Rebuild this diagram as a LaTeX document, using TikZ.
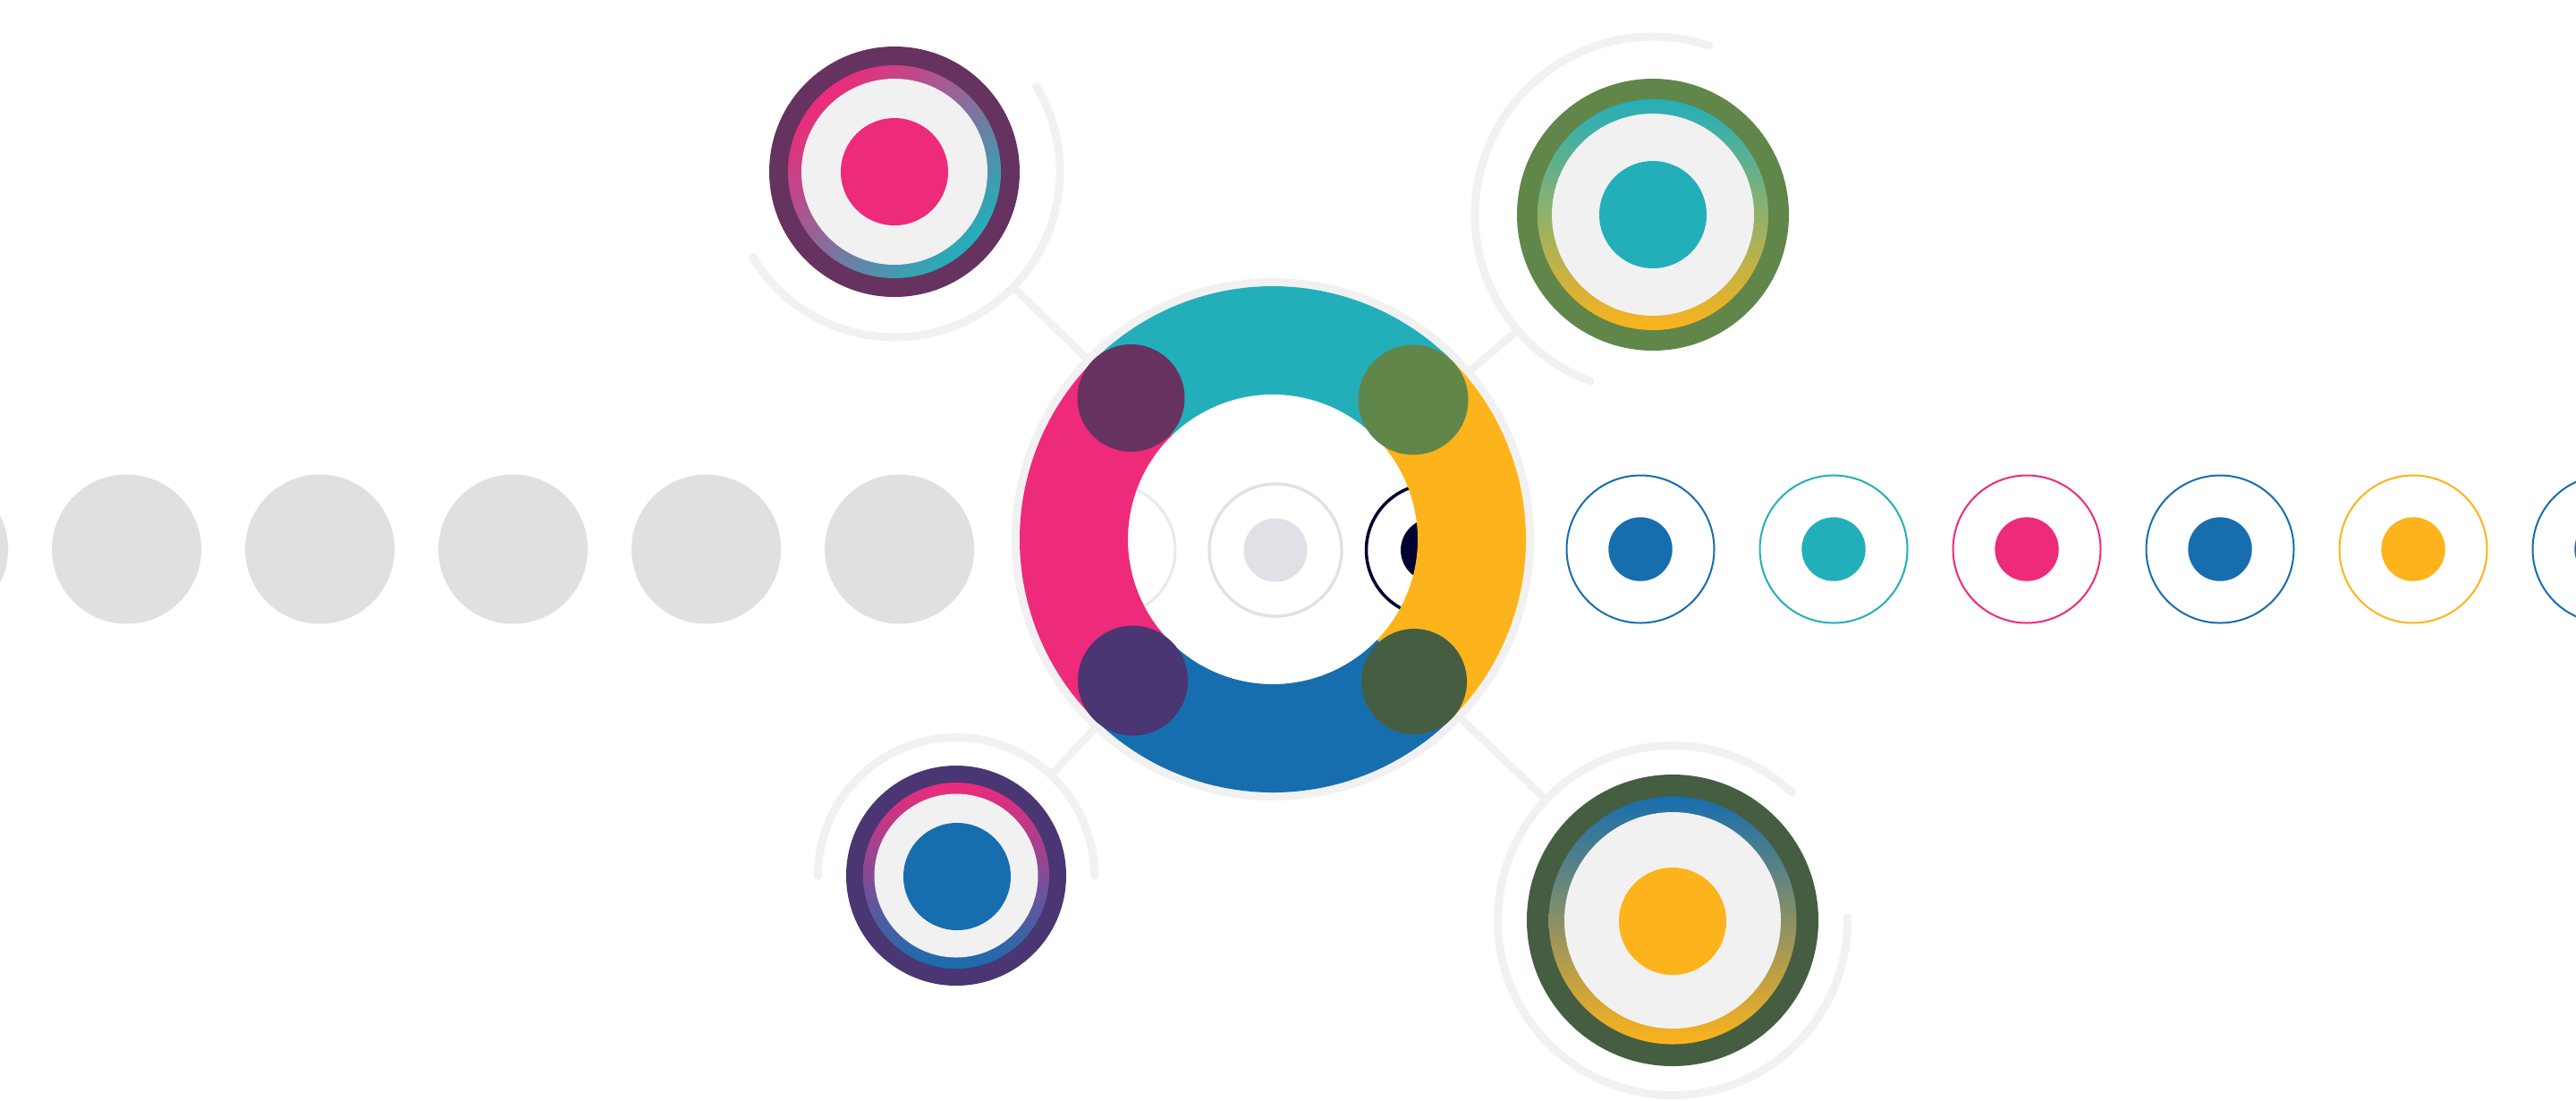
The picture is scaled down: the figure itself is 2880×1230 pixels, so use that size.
\documentclass[tikz,border=0pt]{standalone}
\usetikzlibrary{calc}
\definecolor{pinkC}{HTML}{EE2A7B}
\definecolor{tealC}{HTML}{23AFBA}
\definecolor{yellowC}{HTML}{FDB31B}
\definecolor{blueC}{HTML}{176EAF}
\definecolor{plumC}{HTML}{663361}
\definecolor{oliveC}{HTML}{61864A}
\definecolor{indigoC}{HTML}{4A3672}
\definecolor{forestC}{HTML}{455E42}
\definecolor{lightC}{HTML}{F1F1F1}
\definecolor{arcC}{HTML}{F1F1F1}
\definecolor{rowC}{HTML}{E0E0E0}
\definecolor{hubgreyC}{HTML}{E0E0E6}
\definecolor{hubgreyD}{HTML}{E9E9ED}
\definecolor{navyC}{HTML}{000033}
\tikzset{
  disc/.style 2 args={circle,inner sep=0pt,outer sep=0pt,draw=none,fill=#1,minimum size=#2},
  hoop/.style 2 args={circle,inner sep=0pt,draw=#1,minimum size=#2,line width=0.2mm},
  grad/.style={circle,inner sep=0pt,outer sep=0pt,draw=none,minimum size=#1},
  zone/.style={circle,inner sep=0pt,outer sep=0pt,draw=none,minimum size=#1},
  arcline/.style={draw=arcC,line width=0.9mm,line cap=round},
  link/.style={draw=arcC,line width=0.85mm}
}
\begin{document}
\begin{tikzpicture}[x=0.1mm,y=-0.1mm]
\useasboundingbox (0,0) rectangle (2880,1230);
\fill[white] (0,0) rectangle (2880,1230);
\clip (0,0) rectangle (2880,1230);

% centres
\coordinate (C) at (1423,603);
\coordinate (UL) at (1000,192);
\coordinate (UR) at (1848,240);
\coordinate (BL) at (1069,979);
\coordinate (BR) at (1870,1029);

% hub outline and satellite zones (for connectors)
\node[zone=37mm] (ULz) at (UL) {};
\node[zone=39.8mm] (URz) at (UR) {};
\node[zone=30.9mm] (BLz) at (BL) {};
\node[zone=39.1mm] (BRz) at (BR) {};
\node[zone=58.4mm] (hubz) at (C) {};

% connectors
\draw[link] (ULz) -- (hubz);
\draw[link] (URz) -- (hubz);
\draw[link] (BLz) -- (hubz);
\draw[link] (BRz) -- (hubz);

% row, left grey discs
\foreach \x [count=\i] in {-74.4,141.6,357.6,573.6,789.6,1005.6}
  \node[disc={rowC}{16.7mm}] (g\i) at (\x,614) {};

% row, elements inside hub
\node[hoop={hubgreyD}{14.8mm},line width=0.3mm] (h1) at (1240,615) {};
\node[hoop={hubgreyC}{14.8mm},line width=0.33mm] (h2) at (1426,615) {};
\node[disc={hubgreyC}{7.1mm}] (h2d) at (1426,615) {};
\node[hoop={navyC}{14.8mm},line width=0.35mm] (h3) at (1601.5,615) {};
\node[disc={navyC}{7.1mm}] (h3d) at (1601.5,615) {};

% row, right rings
\foreach \x/\c [count=\i] in {1834/blueC,2050/tealC,2266/pinkC,2482/blueC,2698/yellowC,2914/blueC}{
  \node[hoop={\c}{16.5mm}] (r\i) at (\x,614) {};
  \node[disc={\c}{7.14mm}] (rd\i) at (\x,614) {};
}

% hub grey outline
\node[circle,inner sep=0pt,draw=arcC,line width=0.9mm,minimum size=57.5mm] (hub) at (C) {};

% hub coloured segments
\fill[tealC] ($(C)+(-44:283)$) arc[start angle=-44,end angle=-136,radius=283]
   -- ($(C)+(-136:162)$) arc[start angle=-136,end angle=-44,radius=162] -- cycle;
\fill[yellowC] ($(C)+(46:283)$) arc[start angle=46,end angle=-46,radius=283]
   -- ($(C)+(-46:162)$) arc[start angle=-46,end angle=46,radius=162] -- cycle;
\fill[blueC] ($(C)+(136:283)$) arc[start angle=136,end angle=44,radius=283]
   -- ($(C)+(44:162)$) arc[start angle=44,end angle=136,radius=162] -- cycle;
\fill[pinkC] ($(C)+(226:283)$) arc[start angle=226,end angle=134,radius=283]
   -- ($(C)+(134:162)$) arc[start angle=134,end angle=226,radius=162] -- cycle;

% hub corner discs
\node[disc={plumC}{12mm}] (cUL) at (1264.5,445) {};
\node[disc={oliveC}{12.3mm}] (cUR) at (1580,447) {};
\node[disc={indigoC}{12.3mm}] (cBL) at (1266.5,761) {};
\node[disc={forestC}{11.8mm}] (cBR) at (1581,762) {};

% satellite arcs
\draw[arcline] ($(UL)+(149:185)$) arc[start angle=149,end angle=-31,radius=185];
\draw[arcline] ($(UR)+(-71.6:199)$) arc[start angle=-71.6,end angle=-249.4,radius=199];
\draw[arcline] ($(BL)+(-180:154.5)$) arc[start angle=-180,end angle=0,radius=154.5];
\draw[arcline] ($(BR)+(-47:195.5)$) arc[start angle=-47,end angle=-361,radius=195.5];

% satellite UL
\node[disc={plumC}{28mm}] (ULo) at (UL) {};
\node[grad=23.8mm,top color=pinkC,bottom color=tealC,shading angle=45] (ULg) at (UL) {};
\node[disc={lightC}{20.8mm}] (ULi) at (UL) {};
\node[disc={pinkC}{12mm}] (ULd) at (UL) {};

% satellite UR
\node[disc={oliveC}{30.4mm}] (URo) at (UR) {};
\node[grad=25.8mm,top color=tealC,bottom color=yellowC] (URg) at (UR) {};
\node[disc={lightC}{22.6mm}] (URi) at (UR) {};
\node[disc={tealC}{12mm}] (URd) at (UR) {};

% satellite BL
\node[disc={indigoC}{24.6mm}] (BLo) at (BL) {};
\node[grad=20.8mm,top color=pinkC,bottom color=blueC] (BLg) at (BL) {};
\node[disc={lightC}{18.3mm}] (BLi) at (BL) {};
\node[disc={blueC}{12mm}] (BLd) at (1070,980) {};

% satellite BR
\node[disc={forestC}{32.6mm}] (BRo) at (BR) {};
\node[grad=27.7mm,top color=blueC,bottom color=yellowC] (BRg) at (BR) {};
\node[disc={lightC}{24.2mm}] (BRi) at (BR) {};
\node[disc={yellowC}{12mm}] (BRd) at (1870,1030) {};
\end{tikzpicture}
\end{document}
